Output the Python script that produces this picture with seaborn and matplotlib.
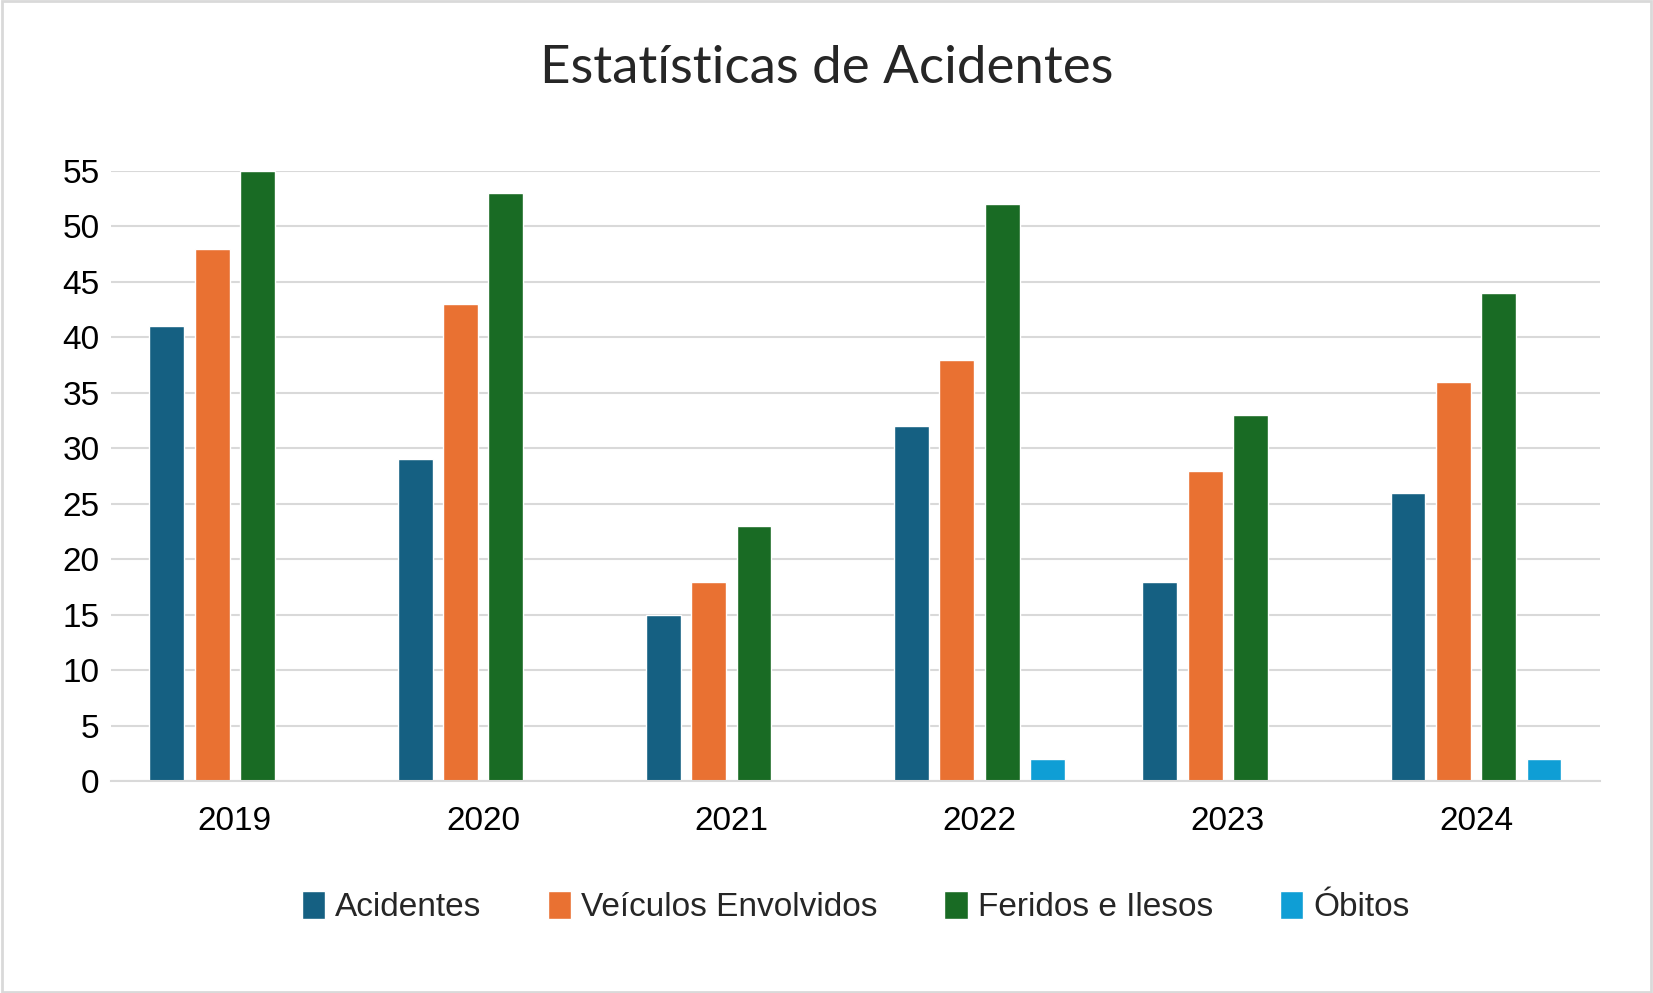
import matplotlib
matplotlib.use("Agg")
import matplotlib.pyplot as plt
import seaborn as sns
import pandas as pd
from matplotlib.patches import Rectangle

years = ["2019", "2020", "2021", "2022", "2023", "2024"]
series = ["Acidentes", "Veículos Envolvidos", "Feridos e Ilesos", "Óbitos"]
acidentes = [41, 29, 15, 32, 18, 26]
veiculos = [48, 43, 18, 38, 28, 36]
feridos = [55, 53, 23, 52, 33, 44]
obitos = [0, 0, 0, 2, 0, 2]
colors = ["#156082", "#E97132", "#196B24", "#0F9ED5"]

rows = []
for s, vals in zip(series, [acidentes, veiculos, feridos, obitos]):
    for y, v in zip(years, vals):
        rows.append({"Ano": y, "Série": s, "Valor": v})
df = pd.DataFrame(rows)

sns.set_theme(style="white")
plt.rcParams['font.family'] = ['Liberation Sans', 'DejaVu Sans']
fig = plt.figure(figsize=(16.53, 9.93), dpi=100)
ax = fig.add_axes([0.067, 0.213, 0.901, 0.615])
sns.barplot(data=df, x="Ano", y="Valor", hue="Série", palette=colors,
            width=0.73, gap=0.23, ax=ax, saturation=1, legend=True)
ax.set_ylim(0, 55)
ax.set_yticks(range(0, 56, 5))
ax.yaxis.grid(True, color="#D9D9D9", linewidth=1.5)
ax.set_axisbelow(True)
for s in ["top", "right", "left"]:
    ax.spines[s].set_visible(False)
ax.spines["bottom"].set_color("#D9D9D9")
ax.spines["bottom"].set_linewidth(1.5)
ax.set_xlabel("")
ax.set_ylabel("")
ax.tick_params(axis="both", length=0, labelsize=24, colors="black")
ax.tick_params(axis="x", pad=18)
ax.tick_params(axis="y", pad=8)
leg = ax.legend(loc="upper center", bbox_to_anchor=(0.5, -0.13), ncol=4,
                frameon=False, fontsize=24, handlelength=0.7, handleheight=0.9,
                handletextpad=0.3, columnspacing=2.0)
fig.suptitle("Estatísticas de Acidentes", y=0.955, fontsize=38, fontfamily=["Lato", "DejaVu Sans"])
fig.patches.append(Rectangle((0.001, 0.001), 0.998, 0.998, transform=fig.transFigure,
                             fill=False, edgecolor="#D9D9D9", linewidth=2))
fig.savefig("out.png", dpi=100, facecolor="white")
